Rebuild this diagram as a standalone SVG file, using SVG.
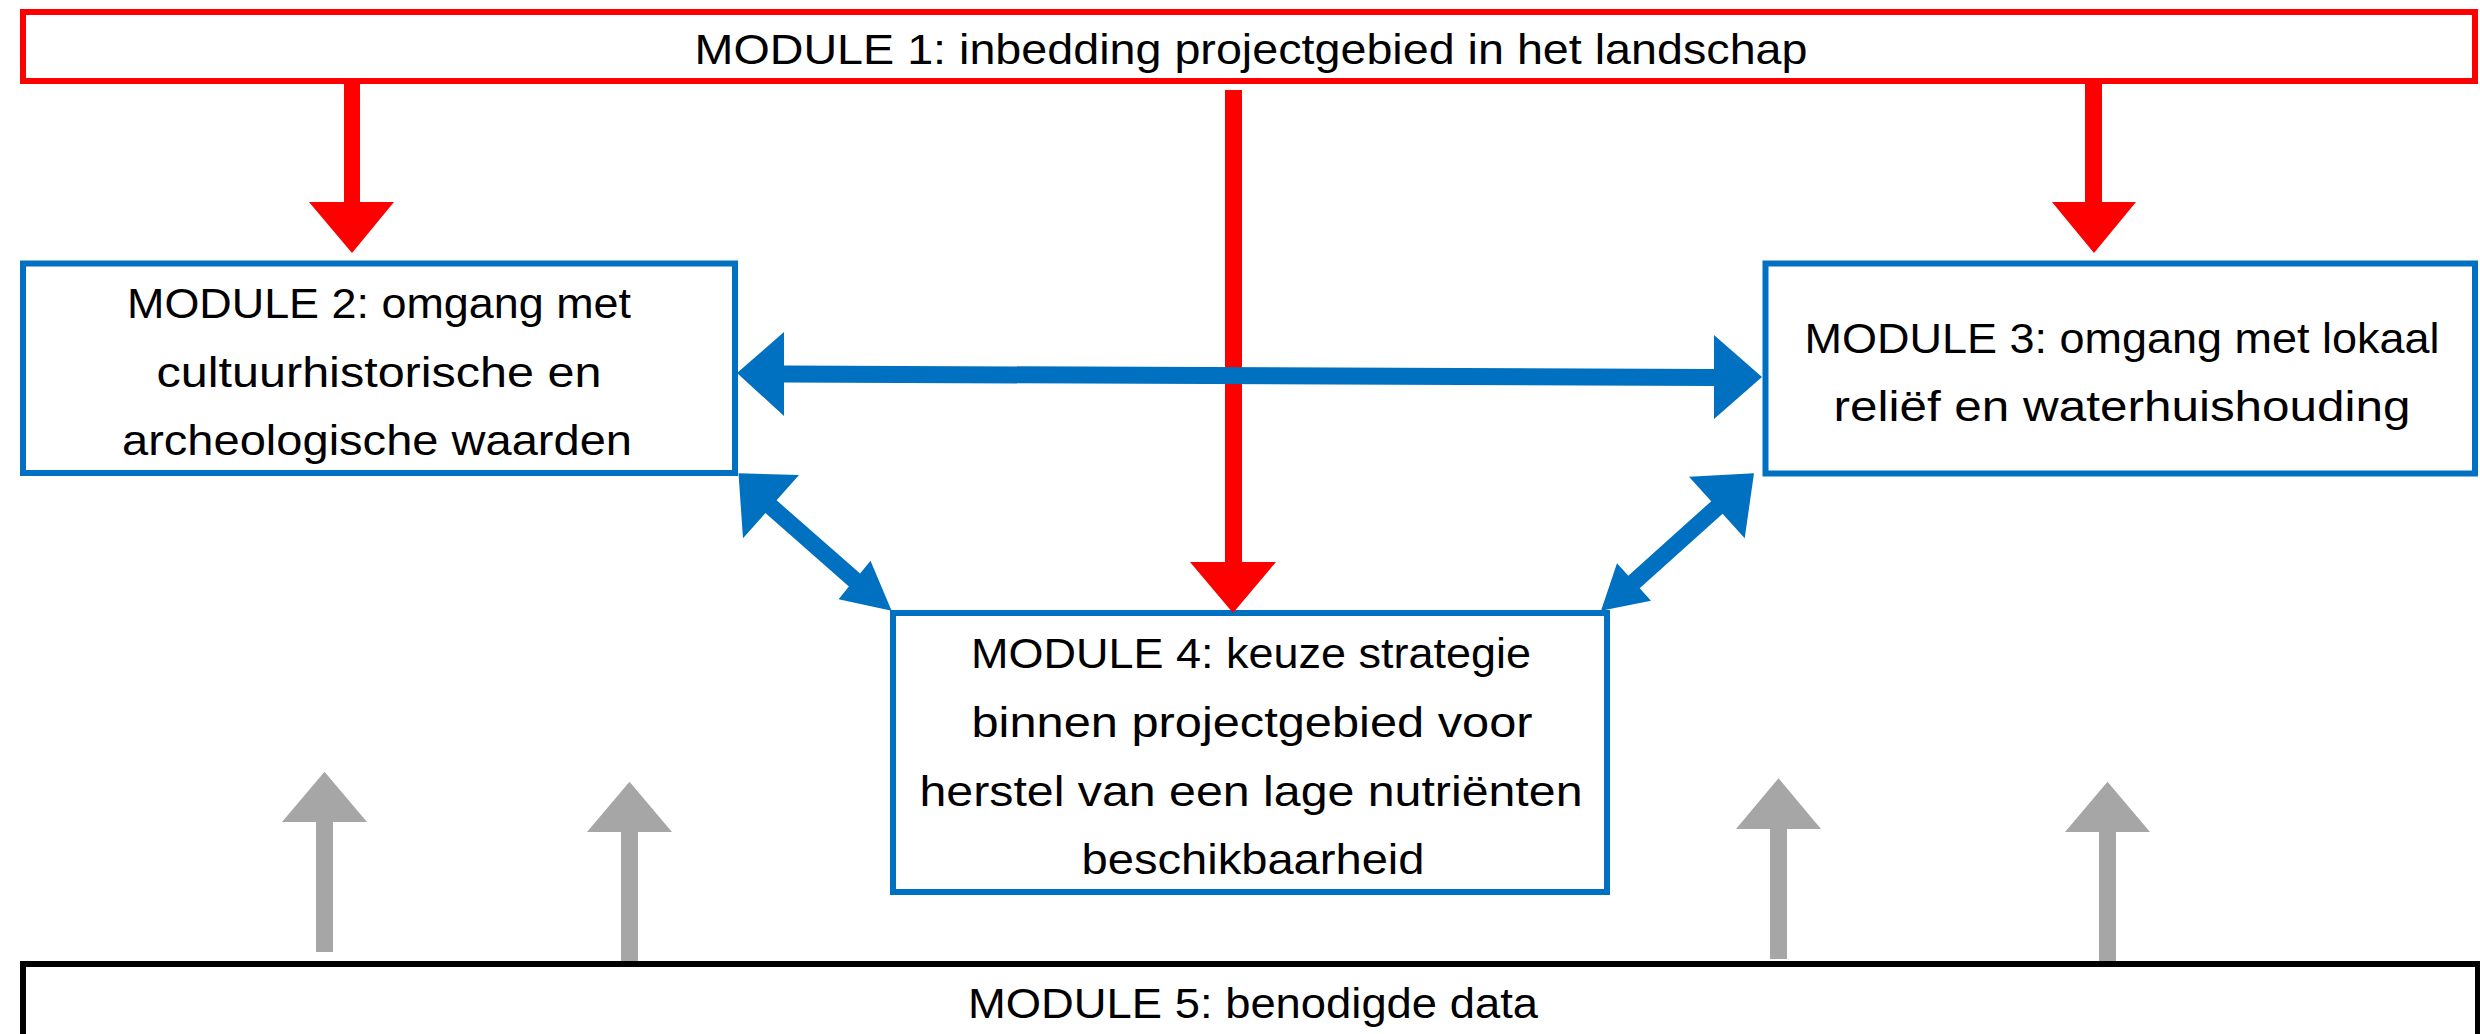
<svg xmlns="http://www.w3.org/2000/svg" width="2480" height="1034" viewBox="0 0 2480 1034">
<style>
.box{fill:#fff;stroke-width:6}
.red{stroke:#ff0000}
.blue{stroke:#0070c0}
.black{stroke:#000}
.t{font-family:"Liberation Sans",Arial,sans-serif;font-size:43px;fill:#000;text-anchor:middle}
.ra{fill:#ff0000}
.ba{fill:#0070c0}
.ga{fill:#a6a6a6}
</style>
<rect x="0" y="0" width="2480" height="1034" fill="#fff"/>
<g id="module1">
<rect class="box red" x="23" y="12" width="2452" height="69"/>
<text class="t" x="1251" y="63.5" textLength="1113" lengthAdjust="spacingAndGlyphs">MODULE 1: inbedding projectgebied in het landschap</text>
</g>
<g id="module2">
<rect class="box blue" x="23" y="263.5" width="712" height="209.5"/>
<text class="t" x="379" y="318" textLength="504" lengthAdjust="spacingAndGlyphs">MODULE 2: omgang met</text>
<text class="t" x="379" y="387" textLength="445" lengthAdjust="spacingAndGlyphs">cultuurhistorische en</text>
<text class="t" x="377" y="455" textLength="510" lengthAdjust="spacingAndGlyphs">archeologische waarden</text>
</g>
<g id="module3">
<rect class="box blue" x="1765.5" y="263.5" width="709.5" height="210"/>
<text class="t" x="2122" y="352.7" textLength="635" lengthAdjust="spacingAndGlyphs">MODULE 3: omgang met lokaal</text>
<text class="t" x="2122" y="421" textLength="577" lengthAdjust="spacingAndGlyphs">reliëf en waterhuishouding</text>
</g>
<g id="module4">
<rect class="box blue" x="893" y="613" width="714" height="279"/>
<text class="t" x="1251" y="668" textLength="560" lengthAdjust="spacingAndGlyphs">MODULE 4: keuze strategie</text>
<text class="t" x="1252" y="737" textLength="561" lengthAdjust="spacingAndGlyphs">binnen projectgebied voor</text>
<text class="t" x="1251" y="805.7" textLength="663" lengthAdjust="spacingAndGlyphs">herstel van een lage nutriënten</text>
<text class="t" x="1253" y="874" textLength="343" lengthAdjust="spacingAndGlyphs">beschikbaarheid</text>
</g>
<g id="module5">
<rect class="box black" x="23" y="964" width="2455" height="73"/>
<text class="t" x="1253" y="1018" textLength="570" lengthAdjust="spacingAndGlyphs">MODULE 5: benodigde data</text>
</g>
<g id="connectors">
<polygon class="ra" points="344,84 360,84 360,202 394,202 352,253 309,202 344,202"/>
<polygon class="ra" points="1225,90 1242,90 1242,562 1276,562 1233,613 1190,562 1225,562"/>
<polygon class="ra" points="2085,84 2102,84 2102,202 2136,202 2094,253 2052,202 2085,202"/>
<polygon class="ba" points="737,373 784,332 784,365.5 1714,369 1714,335 1762,377 1714,419 1714,386 784,382.5 784,416"/>
<polygon class="ba" points="738.5,473.3 799,475 776.6,500.3 860.1,573.6 870.5,560.7 891.6,610.7 838.6,599.3 848.9,586.4 765.4,513.1 743,538.3"/>
<polygon class="ba" points="1754,473.3 1744.7,538.3 1722.6,513.8 1639.7,588.3 1651,600.7 1601,610.7 1617,563.3 1628.3,575.7 1711.2,501.2 1689,476.7"/>
<polygon class="ga" points="316,952 333,952 333,822 367,822 324.5,771.7 282,822 316,822"/>
<polygon class="ga" points="621,961 638,961 638,832 672,832 629.5,781.7 587,832 621,832"/>
<polygon class="ga" points="1770,959 1787,959 1787,829 1821,829 1778.5,778.3 1736,829 1770,829"/>
<polygon class="ga" points="2099,961 2116,961 2116,832 2150,832 2107.5,781.7 2065,832 2099,832"/>
</g>
</svg>
